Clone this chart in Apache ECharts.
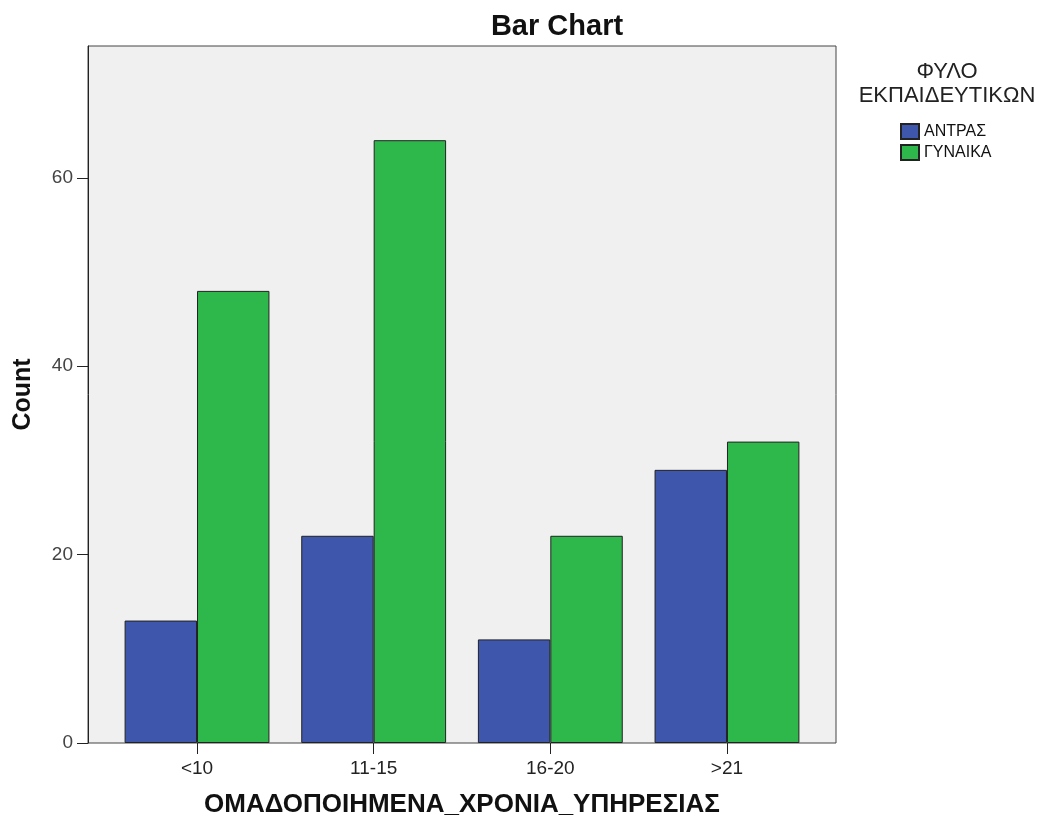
<!DOCTYPE html>
<html lang="el">
<head>
<meta charset="UTF-8">
<title>Bar Chart</title>
<script src="https://cdn.jsdelivr.net/npm/echarts@6/dist/echarts.min.js"></script>
<style>
  html, body { margin: 0; padding: 0; background: #fff; }
  #chart { width: 1041px; height: 816px; }
</style>
</head>
<body>
<div id="chart"></div>
<script>
// δεδομένα
var categories = ['<10', '11-15', '16-20', '>21'];
var antras = [13, 22, 11, 29];
var gynaika = [48, 64, 22, 32];
var yTicks = [0, 20, 40, 60];

var font = 'Liberation Sans, Arial, sans-serif';

var myChart = echarts.init(document.getElementById('chart'));
var option = {
  animation: false,
  textStyle: { fontFamily: font },
  title: [
    {
      text: 'Bar Chart',
      left: 552, top: 7, textAlign: 'center',
      textStyle: { fontSize: 29, fontWeight: 'bold', color: '#111', fontFamily: font }
    },
    {
      text: 'ΦΥΛΟ\nΕΚΠΑΙΔΕΥΤΙΚΩΝ',
      left: 942, top: 55, textAlign: 'center',
      textStyle: { fontSize: 22, fontWeight: 'normal', color: '#222', lineHeight: 24, fontFamily: font }
    }
  ],
  legend: {
    orient: 'vertical',
    left: 895, top: 118,
    icon: 'rect',
    itemWidth: 18, itemHeight: 15, itemGap: 4,
    textStyle: { fontSize: 16, color: '#111' },
    data: ['ΑΝΤΡΑΣ', 'ΓΥΝΑΙΚΑ']
  },
  // εξωτερικό πλαίσιο (φόντο + άξονας y) και εσωτερικό για τις μπάρες
  grid: [
    {
      left: 88, right: 205, top: 46, bottom: 73, outerBoundsMode: 'none',
      show: true, backgroundColor: '#f0f0f0', borderColor: '#444', borderWidth: 1
    },
    {
      left: 108.7, right: 225.7, top: 46, bottom: 73, outerBoundsMode: 'none'
    }
  ],
  xAxis: [
    {
      gridIndex: 0, type: 'value', min: 0, max: 1, show: false
    },
    {
      gridIndex: 1,
      type: 'category',
      data: categories,
      name: 'ΟΜΑΔΟΠΟΙΗΜΕΝΑ_ΧΡΟΝΙΑ_ΥΠΗΡΕΣΙΑΣ',
      nameLocation: 'middle', nameGap: 49,
      nameTextStyle: { fontSize: 26, fontWeight: 'bold', color: '#111' },
      axisLine: { show: false },
      axisTick: { show: true, alignWithLabel: true, length: 11, lineStyle: { color: '#222' } },
      axisLabel: { fontSize: 19, color: '#222', margin: 16 }
    }
  ],
  yAxis: [
    {
      gridIndex: 0,
      type: 'value',
      min: 0, max: 74, interval: 20,
      name: 'Count',
      nameLocation: 'middle', nameGap: 52,
      nameTextStyle: { fontSize: 25, fontWeight: 'bold', color: '#111' },
      axisLine: { show: true, lineStyle: { color: '#222', width: 1 } },
      axisTick: { show: true, length: 11, customValues: yTicks, lineStyle: { color: '#222' } },
      axisLabel: { fontSize: 19, color: '#444', margin: 15, customValues: yTicks },
      splitLine: { show: false }
    },
    {
      gridIndex: 1, type: 'value', min: 0, max: 74, show: false
    }
  ],
  series: [
    {
      name: 'ΑΝΤΡΑΣ', type: 'bar', data: antras,
      xAxisIndex: 1, yAxisIndex: 1,
      barGap: '0%', barCategoryGap: '18%',
      itemStyle: { color: '#3e56ab', borderColor: '#222', borderWidth: 1 }
    },
    {
      name: 'ΓΥΝΑΙΚΑ', type: 'bar', data: gynaika,
      xAxisIndex: 1, yAxisIndex: 1,
      itemStyle: { color: '#2eb84b', borderColor: '#222', borderWidth: 1 }
    }
  ]
};
myChart.setOption(option);
</script>
</body>
</html>
